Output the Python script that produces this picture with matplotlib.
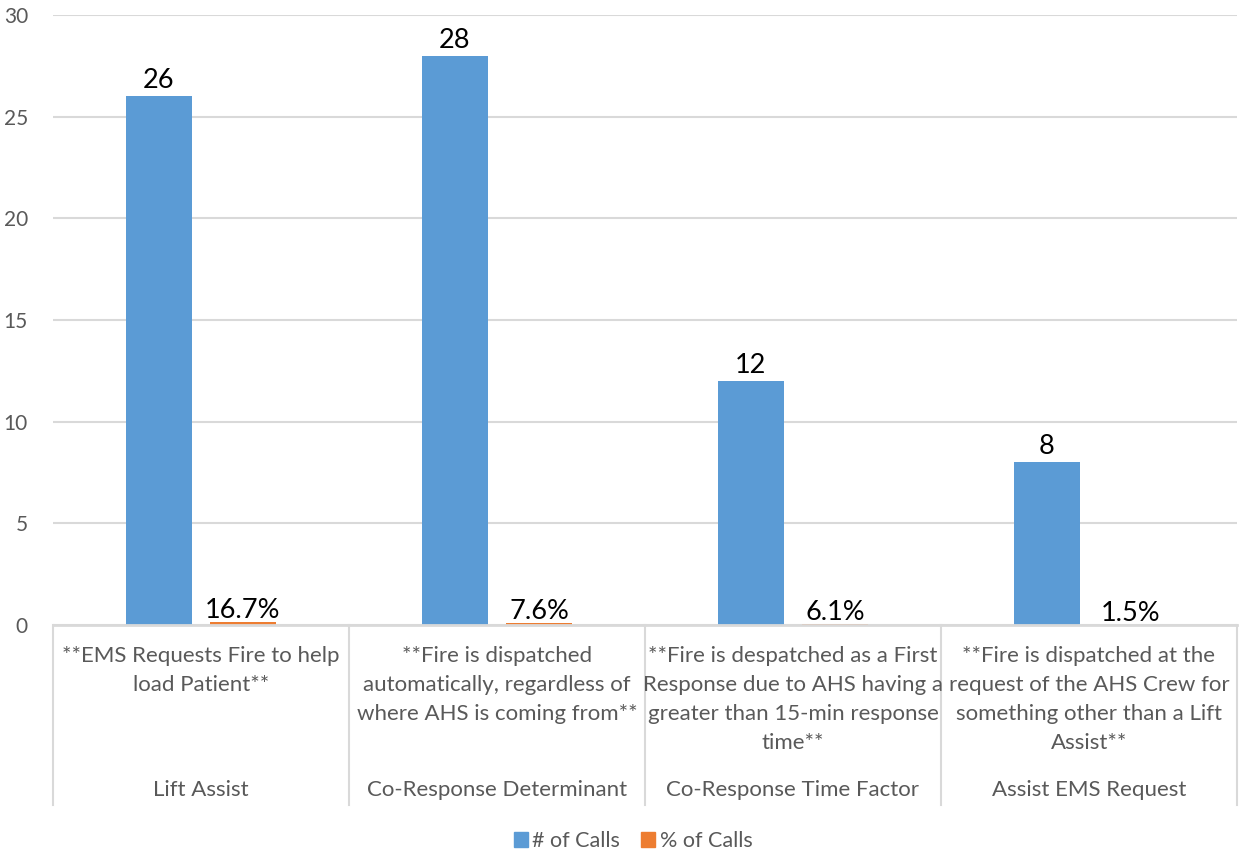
#!/usr/bin/env python3
# -*- coding: utf-8 -*-

import numpy as np
import matplotlib
matplotlib.use("Agg")
import matplotlib.pyplot as plt
from matplotlib.patches import Patch
from matplotlib.transforms import blended_transform_factory

# Данные
categories = ["Lift Assist", "Co-Response Determinant",
              "Co-Response Time Factor", "Assist EMS Request"]
descriptions = [
    "**EMS Requests Fire to help\nload Patient**",
    "**Fire is dispatched\nautomatically, regardless of\nwhere AHS is coming from**",
    "**Fire is despatched as a First\nResponse due to AHS having a\ngreater than 15-min response\ntime**",
    "**Fire is dispatched at the\nrequest of the AHS Crew for\nsomething other than a Lift\nAssist**",
]
num_calls = [26, 28, 12, 8]
pct_calls = [0.167, 0.076, 0.061, 0.015]
yticks = [0, 5, 10, 15, 20, 25, 30]

BLUE = "#5B9BD5"
ORANGE = "#ED7D31"
GRID = "#D9D9D9"
TEXT = "#595959"

plt.rcParams["font.family"] = ["Lato", "DejaVu Sans"]

W, H = 1241, 861
fig = plt.figure(figsize=(W / 100, H / 100), dpi=100)
ax = fig.add_axes([53 / W, 1 - 625 / H, (1237 - 53) / W, (625 - 15) / H])

x = np.arange(len(categories))
width = 0.223
off = 0.142
ax.bar(x - off, num_calls, width, color=BLUE, zorder=3, label="# of Calls")
ax.bar(x + off, pct_calls, width, color=ORANGE, zorder=3, label="% of Calls")

# Подписи значений
for xi, v in zip(x - off, num_calls):
    ax.text(xi, v + 0.15, str(v), ha="center", va="bottom", fontsize=19.5, color="black")
for xi, v in zip(x + off, pct_calls):
    ax.text(xi, v - 0.05, "{:.1f}%".format(v * 100), ha="center", va="bottom",
            fontsize=19.5, color="black", zorder=5)

ax.set_xlim(-0.5, len(categories) - 0.5)
ax.set_ylim(0, 30)
ax.set_yticks(yticks)
ax.tick_params(axis="y", length=0, labelsize=15, labelcolor=TEXT, pad=18)
ax.set_xticks([])
ax.yaxis.grid(True, color=GRID, linewidth=1.5, zorder=0)
for s in ["top", "right", "left"]:
    ax.spines[s].set_visible(False)
ax.spines["bottom"].set_color(GRID)
ax.spines["bottom"].set_linewidth(2)
ax.spines["bottom"].set_zorder(4)

# Двухуровневая ось категорий
tr = blended_transform_factory(ax.transData, ax.transAxes)
ph = 625 - 15
sep_bottom = -(805 - 625) / ph
for b in np.arange(len(categories) + 1) - 0.5:
    ax.plot([b, b], [0, sep_bottom], color=GRID, linewidth=1.5,
            transform=tr, clip_on=False)
for xi, name, desc in zip(x, categories, descriptions):
    for k, line in enumerate(desc.split("\n")):
        yp = 656 + 29 * k
        ax.text(xi, -(yp - 625) / ph, line, transform=tr, ha="center",
                va="center", fontsize=16, color=TEXT)
    ax.text(xi, -(790 - 625) / ph, name, transform=tr, ha="center",
            va="center", fontsize=16, color=TEXT)

handles = [Patch(color=BLUE, label="# of Calls"), Patch(color=ORANGE, label="% of Calls")]
fig.legend(handles=handles, loc="center", bbox_to_anchor=(633 / W, 1 - 841 / H),
           ncol=2, frameon=False, fontsize=15.5, labelcolor=TEXT,
           handlelength=0.65, handleheight=0.65, handletextpad=0.2, columnspacing=1.0)

fig.savefig("out.png", dpi=100)
